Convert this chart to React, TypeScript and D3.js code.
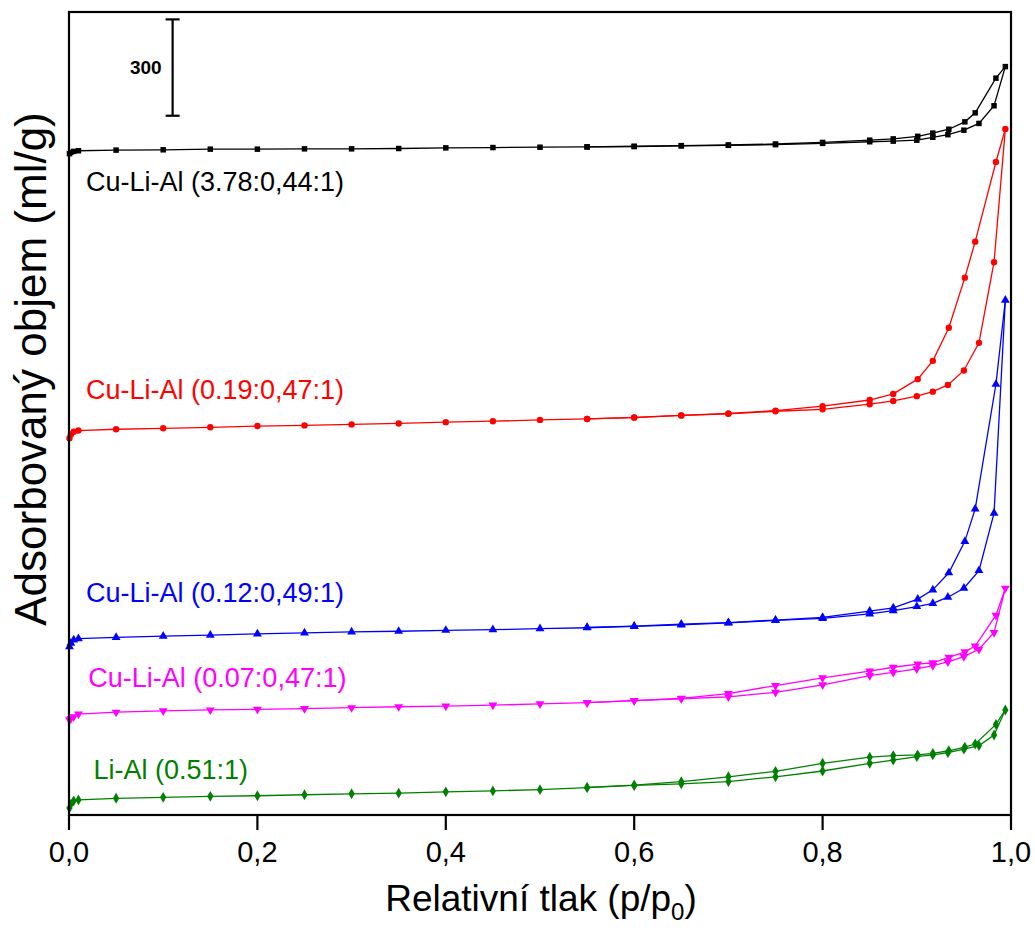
import React from "react";
import * as d3 from "d3";

const xTicks = [0, 0.2, 0.4, 0.6, 0.8, 1.0];
const xTickLabels = ["0,0", "0,2", "0,4", "0,6", "0,8", "1,0"];

// relative pressure points (adsorption branch, desorption branch)
const adsP = [0.0005, 0.002, 0.005, 0.01, 0.05, 0.1, 0.15, 0.2, 0.25, 0.3, 0.35, 0.4, 0.45, 0.5, 0.55, 0.6, 0.65, 0.7, 0.75, 0.8, 0.85, 0.875, 0.9, 0.917, 0.933, 0.95, 0.966, 0.982, 0.994];
const desP = [0.994, 0.984, 0.962, 0.951, 0.934, 0.917, 0.901, 0.875, 0.85, 0.8, 0.75, 0.7, 0.65, 0.6, 0.55];

// adsorbed volume (ml/g), curves offset vertically
const blackAds = [2059, 2063, 2066, 2068, 2070, 2071, 2073, 2073, 2074, 2074, 2075, 2077, 2078, 2079, 2080, 2081, 2083, 2085, 2087, 2091, 2096, 2098, 2101, 2110, 2118, 2132, 2153, 2208, 2330];
const blackDes = [2330, 2294, 2186, 2158, 2135, 2123, 2113, 2105, 2101, 2094, 2089, 2086, 2084, 2082, 2080];
const redAds = [1173, 1185, 1193, 1197, 1201, 1204, 1207, 1211, 1213, 1216, 1219, 1223, 1226, 1230, 1233, 1237, 1244, 1249, 1257, 1263, 1279, 1289, 1304, 1318, 1339, 1384, 1470, 1721, 2136];
const redDes = [2136, 2033, 1785, 1673, 1517, 1414, 1357, 1311, 1292, 1273, 1259, 1250, 1244, 1238, 1233];
const blueAds = [524, 535, 545, 549, 553, 557, 560, 564, 567, 570, 572, 575, 577, 580, 583, 587, 592, 598, 606, 612, 626, 636, 649, 659, 678, 706, 761, 940, 1603];
const blueDes = [1603, 1341, 953, 852, 754, 701, 672, 645, 635, 615, 607, 599, 594, 588, 584];
const magentaAds = [296, 300, 306, 314, 320, 324, 327, 329, 331, 334, 337, 339, 342, 346, 350, 356, 362, 368, 382, 405, 434, 444, 455, 465, 477, 493, 516, 568, 706];
const magentaDes = [706, 622, 526, 508, 491, 474, 470, 460, 448, 427, 403, 378, 363, 356, 350];
const greenAds = [22, 34, 44, 47, 52, 55, 58, 60, 63, 66, 68, 72, 75, 79, 85, 92, 97, 104, 119, 137, 161, 171, 182, 187, 194, 205, 216, 249, 327];
const greenDes = [327, 282, 221, 211, 200, 192, 187, 185, 180, 161, 136, 119, 104, 93, 86];

const seriesNames = ["Cu-Li-Al (3.78:0,44:1)", "Cu-Li-Al (0.19:0,47:1)", "Cu-Li-Al (0.12:0,49:1)", "Cu-Li-Al (0.07:0,47:1)", "Li-Al (0.51:1)"];
const seriesColors = ["#000000", "#ff0000", "#0000ff", "#ff00ff", "#008000"];
const seriesAds = [blackAds, redAds, blueAds, magentaAds, greenAds];
const seriesDes = [blackDes, redDes, blueDes, magentaDes, greenDes];
const seriesSymbols = ["square", "circle", "triangleUp", "triangleDown", "diamond"];
const labelX = [0.018, 0.018, 0.018, 0.0205, 0.026];
const labelY = [1944, 1295, 664, 399, 111];

const scaleBar = { x: 0.11, from: 2177, to: 2477, label: "300" };

const W = 1035;
const H = 932;
const left = 69, right = 1011, top = 12, bottom = 815;

export default function App() {
  const x = d3.scaleLinear().domain([0, 1]).range([left, right]);
  const y = d3.scaleLinear().domain([0, 2500]).range([bottom, top]);
  const line = d3.line<[number, number]>().x((d) => x(d[0])).y((d) => y(d[1]));
  const font = "'Liberation Sans', Arial, sans-serif";

  const symPath = (kind: string) => {
    switch (kind) {
      case "square": return { d: d3.symbol(d3.symbolSquare, 30)()!, rot: 0 };
      case "circle": return { d: d3.symbol(d3.symbolCircle, 32)()!, rot: 0 };
      case "triangleUp": return { d: d3.symbol(d3.symbolTriangle, 34)()!, rot: 0 };
      case "triangleDown": return { d: d3.symbol(d3.symbolTriangle, 34)()!, rot: 180 };
      default: return { d: d3.symbol(d3.symbolDiamond, 34)()!, rot: 0 };
    }
  };

  return (
    <svg width={W} height={H} style={{ position: "absolute", left: 0, top: 0, background: "#fff" }} fontFamily={font}>
      <rect x={0} y={0} width={W} height={H} fill="#fff" />
      {seriesNames.map((name, i) => {
        const ads: [number, number][] = adsP.map((p, j) => [p, seriesAds[i][j]]);
        const des: [number, number][] = desP.map((p, j) => [p, seriesDes[i][j]]);
        const sym = symPath(seriesSymbols[i]);
        const c = seriesColors[i];
        return (
          <g key={name}>
            <path d={line(ads)!} fill="none" stroke={c} strokeWidth={1.3} />
            <path d={line(des)!} fill="none" stroke={c} strokeWidth={1.3} />
            {[...ads, ...des.slice(1)].map((d, j) => (
              <path key={j} d={sym.d} fill={c} transform={`translate(${x(d[0])},${y(d[1])}) rotate(${sym.rot})`} />
            ))}
            <text x={x(labelX[i])} y={y(labelY[i])} fill={c} fontSize={27}>{name}</text>
          </g>
        );
      })}
      {/* frame */}
      <rect x={left} y={top} width={right - left} height={bottom - top} fill="none" stroke="#000" strokeWidth={2.2} />
      {/* x ticks */}
      {xTicks.map((t, i) => (
        <g key={t}>
          <line x1={x(t)} x2={x(t)} y1={bottom} y2={bottom + 15} stroke="#000" strokeWidth={2.2} />
          <text x={x(t)} y={862} textAnchor="middle" fontSize={29} fill="#000">{xTickLabels[i]}</text>
        </g>
      ))}
      {/* scale bar */}
      <g stroke="#000" strokeWidth={2.2}>
        <line x1={x(scaleBar.x)} x2={x(scaleBar.x)} y1={y(scaleBar.from)} y2={y(scaleBar.to)} />
        <line x1={x(scaleBar.x) - 7} x2={x(scaleBar.x) + 7} y1={y(scaleBar.from)} y2={y(scaleBar.from)} />
        <line x1={x(scaleBar.x) - 7} x2={x(scaleBar.x) + 7} y1={y(scaleBar.to)} y2={y(scaleBar.to)} />
      </g>
      <text x={x(scaleBar.x) - 11} y={74} textAnchor="end" fontSize={19} fontWeight="bold" fill="#000">{scaleBar.label}</text>
      {/* axis titles */}
      <text x={541} y={911} textAnchor="middle" fontSize={37} fill="#000">
        Relativní tlak (p/p<tspan dy={9} fontSize={24}>0</tspan><tspan dy={-9}>)</tspan>
      </text>
      <text transform="rotate(-90)" x={-369} y={46} textAnchor="middle" fontSize={44} fill="#000">Adsorbovaný objem (ml/g)</text>
    </svg>
  );
}
